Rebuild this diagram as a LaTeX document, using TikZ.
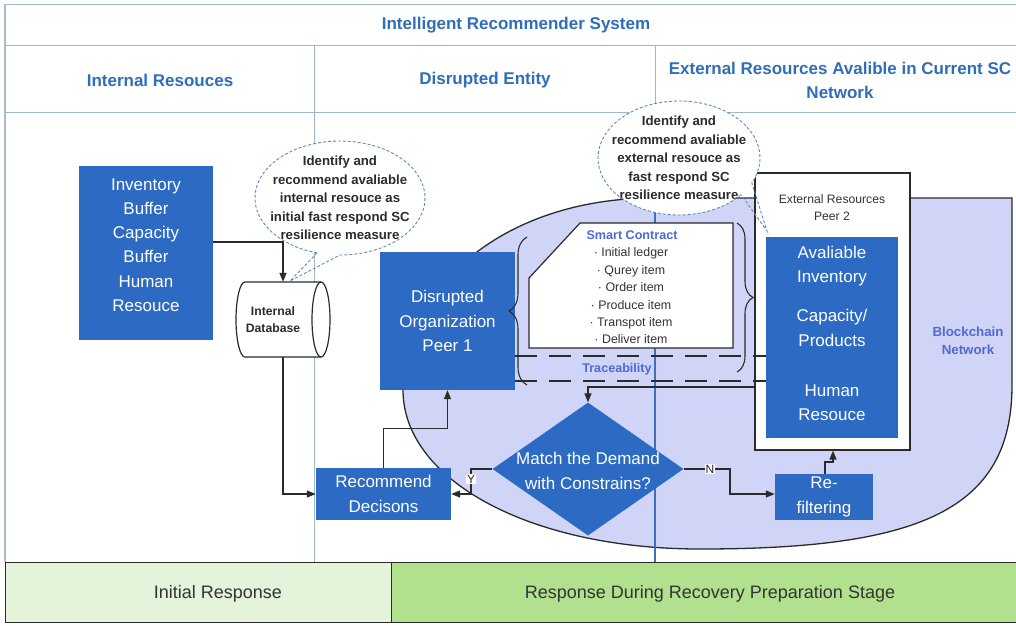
\documentclass[tikz,border=0pt]{standalone}
\usepackage{fontspec}
\setmainfont{Liberation Sans}
\usetikzlibrary{shapes.geometric,arrows.meta,decorations.pathreplacing,calc}
\definecolor{bbox}{HTML}{2D6AC4}
\definecolor{lav}{HTML}{D0D4F7}
\definecolor{hblue}{HTML}{2F6EB8}
\definecolor{scblue}{HTML}{4F6AD6}
\definecolor{bandA}{HTML}{E3F4DB}
\definecolor{bandB}{HTML}{B1E18E}
\definecolor{gridc}{HTML}{9DB7CC}
\definecolor{framec}{HTML}{A9BCCB}
\definecolor{colblue}{HTML}{3A70C0}
\definecolor{dk}{HTML}{2B2B2B}
\definecolor{bubc}{HTML}{5E8BB5}
\definecolor{txt}{HTML}{333333}
\tikzset{
  bluebox/.style={fill=bbox, draw=none, text=white, align=center, inner sep=0pt,
    font=\fontsize{17}{24.2}\selectfont},
  whitetext/.style={text=white, align=center, inner sep=0pt, font=\fontsize{17}{24.2}\selectfont},
  hdr/.style={text=hblue, align=center, inner sep=0pt, font=\bfseries\fontsize{17}{24}\selectfont},
  band/.style={draw=dk, line width=0.9pt, inner sep=0pt},
  bandtext/.style={inner sep=0pt, text=txt, font=\fontsize{18}{22}\selectfont},
  bubtext/.style={text=dk, align=center, inner sep=0pt, font=\bfseries\fontsize{13.2}{18.6}\selectfont},
  bub/.style={draw=bubc, dashed, dash pattern=on 3pt off 2pt, line width=0.9pt},
  conn/.style={draw=dk, line width=1.3pt},
  arr/.style={conn, -{Triangle[length=9pt,width=7pt]}},
  lbl/.style={fill=white, inner sep=1pt, text=dk, font=\fontsize{12}{14}\selectfont},
  smalltext/.style={text=txt, align=center, inner sep=0pt, font=\fontsize{12.4}{17.4}\selectfont},
  cyl/.style={draw=dk, line width=1.2pt},
}
\begin{document}
\begin{tikzpicture}[x=1pt,y=-1pt]
\useasboundingbox (0,0) rectangle (1016,625);
\fill[white] (0,0) rectangle (1016,625);

% table lines
\draw[gridc, line width=0.9pt] (5,4) -- (1016,4);
\draw[gridc, line width=0.9pt] (5,45) -- (1016,45);
\draw[gridc, line width=0.9pt] (5,112) -- (1016,112);
\draw[gridc, line width=0.9pt] (314,45) -- (314,562);
\draw[gridc, line width=0.9pt] (655,45) -- (655,112);
\draw[framec, line width=2.2pt] (5,4) -- (5,562);

% headers
\node[hdr] (title) at (516,25) {Intelligent Recommender System};
\node[hdr] (hA) at (160,80) {Internal Resouces};
\node[hdr] (hB) at (485,80) {Disrupted Entity};
\node[hdr] (hC) at (840,80) {External Resources Avalible in Current SC\\Network};

% blockchain network
\filldraw[fill=lav, draw=dk, line width=1.3pt]
  (1012,198) -- (1012,385)
  .. controls (1012,510) and (920,549) .. (700,549)
  .. controls (530,549) and (403,480) .. (403,390)
  .. controls (403,290) and (500,200) .. (650,198) -- cycle;
\draw[colblue, line width=1.1pt] (655,112) -- (655,562);
\node[text=scblue, align=center, inner sep=0pt, font=\bfseries\fontsize{13.3}{18}\selectfont] (bcn) at (968,341) {Blockchain\\Network};

% bottom bands
\node[band, fill=bandA, minimum width=386, minimum height=60] (bandI) at (198,592) {};
\node[band, fill=bandB, minimum width=626, minimum height=60] (bandR) at (704,592) {};
\node[bandtext] (bandIt) at (218,594) {Initial Response};
\node[bandtext] (bandRt) at (710,594) {Response During Recovery Preparation Stage};

% internal resources
\node[bluebox, minimum width=134, minimum height=174] (inv) at (146,253) {};
\node[whitetext] (invt) at (146,245) {Inventory\\Buffer\\Capacity\\Buffer\\Human\\Resouce};
% internal database (horizontal cylinder)
\node[inner sep=0pt, minimum width=94, minimum height=75] (db) at (283,319.5) {};
\filldraw[cyl, fill=white] (245,282) -- (321,282)
  arc[start angle=-90, end angle=90, x radius=9, y radius=37.5] -- (245,357)
  arc[start angle=90, end angle=270, x radius=9, y radius=37.5] -- cycle;
\draw[cyl] (321,282) arc[start angle=270, end angle=90, x radius=9, y radius=37.5];
\node[text=dk, align=center, inner sep=0pt, font=\bfseries\fontsize{12.2}{17}\selectfont] (dbt) at (273,320) {Internal\\Database};

% disrupted org
\node[bluebox, minimum width=135, minimum height=138] (dis) at (447.5,321) {Disrupted\\Organization\\Peer 1};

% smart contract
\filldraw[fill=white, draw=dk, line width=1.2pt] (529,278) -- (580,223) -- (733,223) -- (733,348) -- (529,348) -- cycle;
\node[text=scblue, inner sep=0pt, font=\bfseries\fontsize{12.6}{15}\selectfont] (sct) at (632,235) {Smart Contract};
\node[smalltext] (sci) at (631,296) {\textperiodcentered\ Initial ledger\\\textperiodcentered\ Qurey item\\\textperiodcentered\ Order item\\\textperiodcentered\ Produce item\\\textperiodcentered\ Transpot item\\\textperiodcentered\ Deliver item};
\node[text=scblue, inner sep=0pt, font=\bfseries\fontsize{12.6}{15}\selectfont] (trc) at (617,369) {Traceability};

% external resources peer 2
\node[draw=dk, line width=1.2pt, fill=white, minimum width=155, minimum height=277, inner sep=0pt] (peer2) at (832.5,311.5) {};
\node[smalltext, font=\fontsize{12.2}{17}\selectfont] (p2t) at (832,208) {External Resources\\Peer 2};
\node[bluebox, minimum width=132, minimum height=201] (avail) at (832,337.5) {};
\node[whitetext] (a1) at (832,266) {Avaliable\\Inventory};
\node[whitetext] (a2) at (832,328) {Capacity/\\Products};
\node[whitetext] (a3) at (832,403) {Human\\Resouce};

% braces
\draw[dk, line width=1.1pt, decorate, decoration={brace, amplitude=18pt}] (527,385) -- (527,237);
\draw[dk, line width=1.1pt, decorate, decoration={brace, amplitude=16pt}] (737,223) -- (737,372);

% dashed links
\draw[conn, dash pattern=on 22pt off 12pt] (dis.east |- 0,356) -- (avail.west |- 0,356);
\draw[conn, dash pattern=on 22pt off 12pt] (dis.east |- 0,381) -- (avail.west |- 0,381);

% decision
\node[diamond, fill=bbox, minimum width=191, minimum height=133, inner sep=0pt] (dia) at (588,469) {};
\node[whitetext] (diat) at (588,471) {Match the Demand\\with Constrains?};
\node[bluebox, minimum width=135, minimum height=52] (rec) at (383.5,494) {Recommend\\Decisons};
\node[bluebox, minimum width=98, minimum height=46] (ref) at (824,497) {Re-\\filtering};

% connectors
\draw[arr] (inv.east |- 0,242) -| (db.north);
\draw[arr] (db.south) |- (rec.west);
\draw[arr] (rec.north) -- ++(0,-39) -| (dis.south);
\draw[arr] (dia.west) -- (471,469) -- (471,494) -- (rec.east);
\node[lbl] (ylbl) at (471,479) {Y};
\draw[arr] (dia.east) -- (730,469) -- (730,494) -- (ref.west |- 0,494);
\node[lbl] (nlbl) at (710,469) {N};
\draw[arr] (ref.north -| 825,0) -- (825,462) -- (833,462) -- (peer2.south -| 833,0);
\draw[arr] (peer2.west |- 0,387) -| (dia.north);

% callout bubbles
\fill[white] (340,198) ellipse [x radius=85, y radius=57];
\node[bubtext] (b1) at (340,198) {Identify and\\recommend avaliable\\internal resouce as\\initial fast respond SC\\resilience measure};
\draw[bub] (340,198) ++(105.6:85 and 57) arc[start angle=105.6, end angle=450, x radius=85, y radius=57] -- (290,281) -- cycle;

\fill[white] (679,158) ellipse [x radius=81, y radius=57];
\node[bubtext] (b2) at (679,158) {Identify and\\recommend avaliable\\external resouce as\\fast respond SC\\resilience measure};
\draw[bub] (679,158) ++(40:81 and 57) arc[start angle=40, end angle=386, x radius=81, y radius=57] -- (767,231) -- cycle;
\end{tikzpicture}
\end{document}
